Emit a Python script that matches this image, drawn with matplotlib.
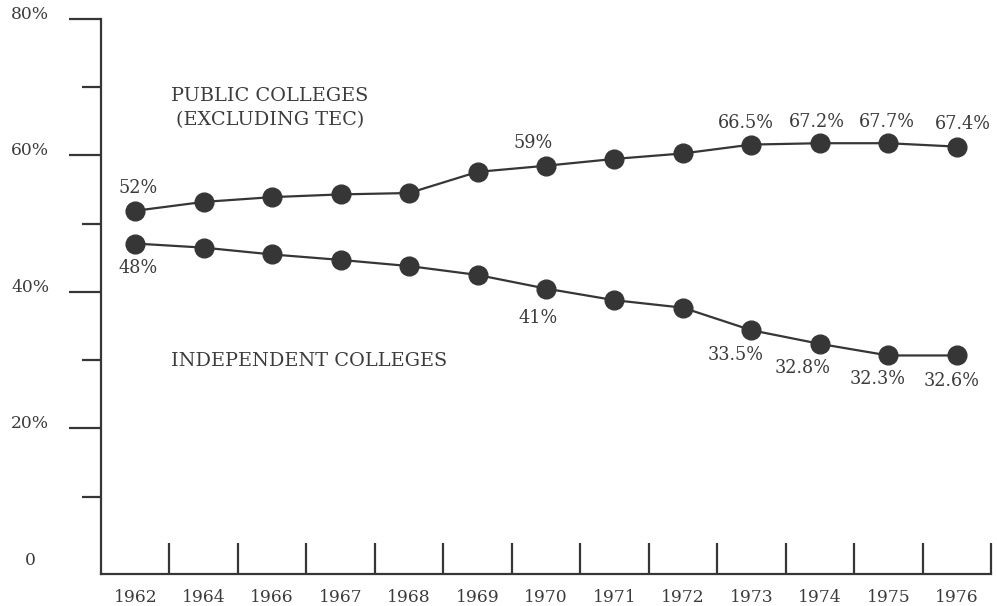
import matplotlib
matplotlib.use("Agg")
import matplotlib.pyplot as plt
from matplotlib.ticker import FixedLocator, NullFormatter

# ---- data ----
years = ["1962", "1964", "1966", "1967", "1968", "1969", "1970",
         "1971", "1972", "1973", "1974", "1975", "1976"]
public = [51.9, 53.2, 53.9, 54.3, 54.5, 57.6, 58.5, 59.5, 60.3, 61.6, 61.8, 61.8, 61.3]
independent = [47.1, 46.5, 45.5, 44.7, 43.8, 42.5, 40.5, 38.8, 37.7, 34.4, 32.4, 30.7, 30.7]

# printed value labels: (year index, text)
public_labels = [(0, "52%"), (6, "59%"), (9, "66.5%"), (10, "67.2%"), (11, "67.7%"), (12, "67.4%")]
independent_labels = [(0, "48%"), (6, "41%"), (9, "33.5%"), (10, "32.8%"), (11, "32.3%"), (12, "32.6%")]

y_major = [0, 20, 40, 60, 80]
y_major_labels = ["0", "20%", "40%", "60%", "80%"]
y_minor = [10, 30, 50, 70]

public_name = "PUBLIC COLLEGES\n(EXCLUDING TEC)"
independent_name = "INDEPENDENT COLLEGES"

# ---- style ----
FONT = "DejaVu Serif"
INK = "#363636"
TXT = "#3c3c3c"

fig = plt.figure(figsize=(9.97, 6.06), dpi=100)
W, H = 997, 606
left, right = 101 / W, 991 / W
bottom, top = (H - 574) / H, (H - 19) / H
ax = fig.add_axes([left, bottom, right - left, top - bottom])

x = list(range(len(years)))
mk = dict(marker="o", markersize=13.5, color=INK, linewidth=1.6,
          markerfacecolor=INK, markeredgecolor=INK)
ax.plot(x, public, **mk)
ax.plot(x, independent, **mk)

ax.set_xlim(-0.5, len(years) - 0.5)
ax.set_ylim(-1.32, 80)

# spines
for s in ["top", "right"]:
    ax.spines[s].set_visible(False)
for s in ["left", "bottom"]:
    ax.spines[s].set_linewidth(1.6)
    ax.spines[s].set_color(INK)

# x axis: labels at centres, inward ticks at boundaries
ax.set_xticks(x)
ax.set_xticklabels(years, fontfamily=FONT, fontsize=12.3, color=TXT)
ax.tick_params(axis="x", which="major", length=0, pad=11)
ax.xaxis.set_minor_locator(FixedLocator([i + 0.5 for i in x]))
ax.xaxis.set_minor_formatter(NullFormatter())
ax.tick_params(axis="x", which="minor", direction="in", length=22.5, width=1.6, color=INK)

# y axis
ax.set_yticks(y_major)
ax.set_yticklabels(y_major_labels, fontfamily=FONT, fontsize=12.3, color=TXT,
                   ha="center", va="baseline")
ax.tick_params(axis="y", which="major", direction="out", length=23, width=1.6,
               color=INK, pad=28)
ax.yaxis.set_minor_locator(FixedLocator(y_minor))
ax.yaxis.set_minor_formatter(NullFormatter())
ax.tick_params(axis="y", which="minor", direction="out", length=13.5, width=1.6, color=INK)
ax.yaxis.get_major_ticks()[0].tick1line.set_visible(False)

# value labels (offsets in pixels from the point)
pub_off = {0: (3, 23), 6: (-13, 23), 9: (-6, 22), 10: (-3, 21), 11: (-1, 21), 12: (6, 23)}
ind_off = {0: (3, -24), 6: (-8, -29), 9: (-16, -25), 10: (-17, -24), 11: (-11, -24), 12: (-5, -26)}
for i, t in public_labels:
    ax.annotate(t, (i, public[i]), xytext=pub_off[i], textcoords="offset pixels",
                ha="center", va="center", fontfamily=FONT, fontsize=12.7, color=TXT)
for i, t in independent_labels:
    ax.annotate(t, (i, independent[i]), xytext=ind_off[i], textcoords="offset pixels",
                ha="center", va="center", fontfamily=FONT, fontsize=12.7, color=TXT)

# series names
fig.text(171 / W, 1 - 108 / H, public_name, ha="left", va="center",
         fontfamily=FONT, fontsize=13.9, color=TXT, linespacing=1.4, multialignment="center")
fig.text(171 / W, 1 - 361 / H, independent_name, ha="left", va="center",
         fontfamily=FONT, fontsize=13.9, color=TXT)

fig.savefig("out.png", dpi=100)
